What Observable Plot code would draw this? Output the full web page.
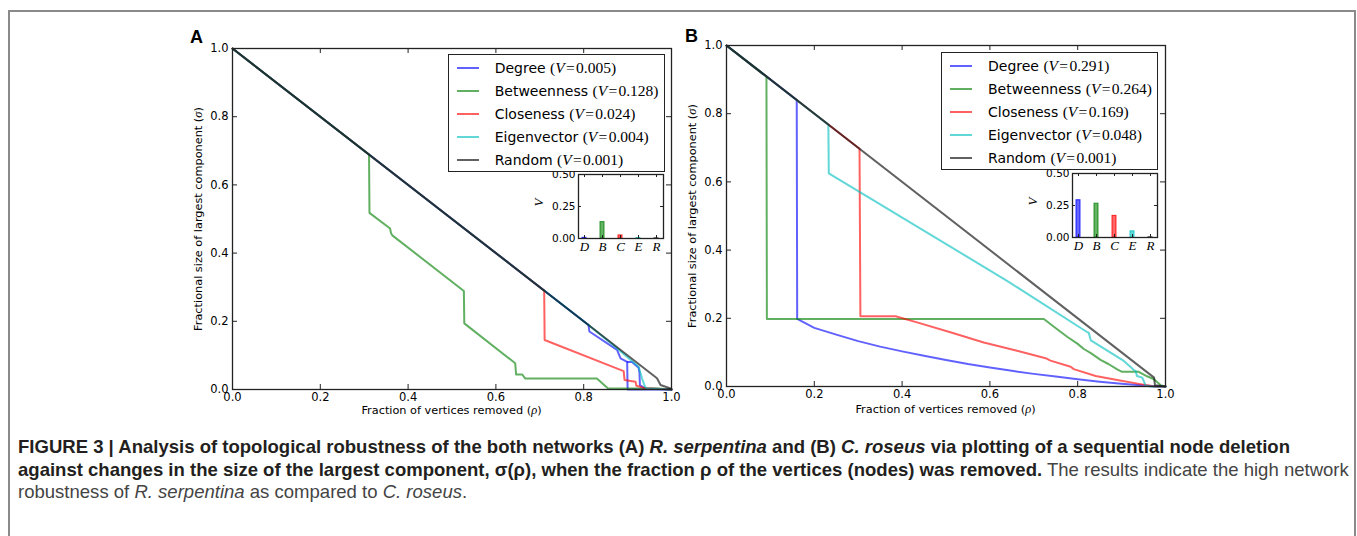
<!DOCTYPE html>
<html><head><meta charset="utf-8">
<script src="https://cdn.jsdelivr.net/npm/d3@7"></script>
<script src="https://cdn.jsdelivr.net/npm/@observablehq/plot@0.6"></script>
<style>
html,body{margin:0;padding:0;background:#fff;}
body{width:1357px;height:536px;position:relative;overflow:hidden;}
#outer{position:absolute;left:8px;top:10px;width:1348px;height:560px;border:2px solid #8a8a8a;border-bottom:none;box-sizing:border-box;}
.legend{position:absolute;background:#fff;border:1.5px solid #222;box-sizing:border-box;z-index:5;}
.lsw{position:absolute;height:0;border-top:2.5px solid;}
.ltxt{position:absolute;font-family:"DejaVu Sans";font-size:14px;color:#000;white-space:nowrap;transform:translateY(-50%);line-height:16px;}
.math{font-family:"Liberation Serif";font-size:15.5px;}
.ylab{position:absolute;font-family:"DejaVu Sans";font-size:11.3px;transform:translate(-50%,-50%) rotate(-90deg);white-space:nowrap;color:#000;}
.xlab{position:absolute;font-family:"DejaVu Sans";font-size:11.3px;transform:translate(-50%,-50%);white-space:nowrap;color:#000;}
.ser{font-family:"Liberation Serif";font-style:italic;font-size:12.5px;}
.plab{position:absolute;font-family:"Liberation Sans";font-weight:bold;font-size:18px;line-height:18px;color:#000;}
.cap{position:absolute;left:18px;font-family:"Liberation Sans";font-size:18.55px;line-height:22.5px;color:#444;white-space:nowrap;}
.cap b{color:#231f20;}
svg{overflow:visible;}
</style></head>
<body>
<div id="outer"></div>
<script>
// ---------- data ----------
const seriesNames = ["Degree", "Betweenness", "Closeness", "Eigenvector", "Random"];
const seriesKeys = ["D", "B", "C", "E", "R"];
const seriesColors = ["#0000ff", "#008000", "#ff0000", "#00bfbf", "#000000"];
const mainTicks = [0, 0.2, 0.4, 0.6, 0.8, 1.0];
const insetTicks = [0, 0.25, 0.5];

// Panel A: R. serpentina  (fraction removed, fractional size)
const vA = [0.005, 0.128, 0.024, 0.004, 0.001];
const degreeA = [[0,1],[0.811,0.189],[0.813,0.17],[0.876,0.116],[0.884,0.091],[0.899,0.081],[0.9,0.0],[1,0]];
const degreeA2 = [[0.9,0.081],[0.91,0.081],[0.925,0.064],[0.927,0.05],[0.928,0.013],[0.94,0.003],[1,0]];
const betweennessA = [[0,1],[0.311,0.689],[0.312,0.518],[0.359,0.472],[0.361,0.459],[0.364,0.452],[0.527,0.289],[0.528,0.194],[0.644,0.077],[0.646,0.044],[0.66,0.044],[0.667,0.032],[0.83,0.032],[0.855,0.004],[0.97,0.003],[1,0]];
const closenessA = [[0,1],[0.71,0.29],[0.711,0.145],[0.891,0.054],[0.893,0.028],[0.918,0.023],[0.92,0.011],[0.94,0.004],[1,0]];
const eigenvectorA = [[0,1],[0.811,0.189],[0.876,0.121],[0.891,0.104],[0.925,0.067],[0.933,0.032],[0.94,0.007],[0.945,0.003],[1,0]];
const randomA = [[0,1],[0.967,0.033],[0.975,0.013],[0.998,0.003],[1,0]];

// Panel B: C. roseus
const vB = [0.291, 0.264, 0.169, 0.048, 0.001];
const degreeB = [[0,1],[0.16,0.84],[0.161,0.198],[0.2,0.172],[0.25,0.152],[0.3,0.133],[0.35,0.117],[0.4,0.103],[0.45,0.09],[0.5,0.078],[0.55,0.066],[0.6,0.056],[0.65,0.046],[0.7,0.037],[0.75,0.029],[0.8,0.021],[0.85,0.014],[0.9,0.008],[0.95,0.003],[0.98,0.0],[1,0]];
const betweennessB = [[0,1],[0.091,0.909],[0.092,0.198],[0.723,0.198],[0.745,0.176],[0.776,0.146],[0.8,0.125],[0.814,0.11],[0.83,0.098],[0.852,0.078],[0.87,0.066],[0.89,0.05],[0.901,0.043],[0.939,0.043],[0.958,0.03],[0.973,0.022],[0.99,0.003],[1,0]];
const closenessB = [[0,1],[0.303,0.697],[0.305,0.206],[0.385,0.206],[0.434,0.188],[0.51,0.159],[0.586,0.129],[0.662,0.105],[0.727,0.083],[0.738,0.076],[0.784,0.058],[0.791,0.051],[0.841,0.031],[0.89,0.019],[0.943,0.007],[0.977,0.0],[1,0]];
const eigenvectorB = [[0,1],[0.232,0.768],[0.233,0.625],[0.639,0.31],[0.822,0.159],[0.825,0.158],[0.83,0.135],[0.905,0.075],[0.92,0.058],[0.928,0.048],[0.932,0.046],[0.935,0.031],[0.947,0.026],[0.951,0.014],[0.955,0.002],[0.966,0.0],[1,0]];
const randomB = [[0,1],[0.974,0.026],[0.976,0.004],[1,0]];

// ---------- drawing ----------
const body = document.body;
function place(el, left, top) {
  el.style.position = "absolute"; el.style.left = left + "px"; el.style.top = top + "px";
  body.appendChild(el); return el;
}

function mainPanel(curves, left, top) {
  const W = 503, H = 411, mL = 52, mR = 12, mT = 30, mB = 40;
  const ph = H - mT - mB, pw = W - mL - mR;
  const inner = mainTicks.slice(1, -1);
  const tk = {stroke: "#222", strokeWidth: 1};
  const marks = curves.map(([pts, color]) =>
    Plot.line(pts, {x: d => d[0], y: d => d[1], stroke: color, strokeWidth: 2, strokeOpacity: 0.62}));
  marks.push(
    Plot.ruleX(inner, {x: d => d, insetTop: ph - 5, ...tk}),
    Plot.ruleX(inner, {x: d => d, insetBottom: ph - 5, ...tk}),
    Plot.ruleY(inner, {y: d => d, insetRight: pw - 5, ...tk}),
    Plot.ruleY(inner, {y: d => d, insetLeft: pw - 5, ...tk}),
    Plot.frame({stroke: "#222", strokeWidth: 1.3}),
    Plot.axisX({ticks: mainTicks, tickFormat: d3.format(".1f"), tickSize: 0, tickPadding: 3, label: null}),
    Plot.axisY({ticks: mainTicks, tickFormat: d3.format(".1f"), tickSize: 0, tickPadding: 4, label: null})
  );
  const svg = Plot.plot({
    width: W, height: H, marginLeft: mL, marginRight: mR, marginTop: mT, marginBottom: mB,
    x: {domain: [0, 1]}, y: {domain: [0, 1]},
    style: {fontFamily: "DejaVu Sans", fontSize: "11.5px", color: "#000", background: "transparent", overflow: "visible"},
    marks
  });
  return place(svg, left, top);
}

function insetPanel(values, left, top) {
  const W = 135, H = 90, mL = 46, mR = 4, mT = 8, mB = 18;
  const ph = H - mT - mB, pw = W - mL - mR;
  const data = seriesKeys.map((k, i) => ({k, v: values[i]}));
  const tk = {stroke: "#222", strokeWidth: 1};
  const svg = Plot.plot({
    width: W, height: H, marginLeft: mL, marginRight: mR, marginTop: mT, marginBottom: mB,
    x: {type: "band", domain: seriesKeys, paddingInner: 0.77, paddingOuter: 0.186},
    y: {domain: [0, 0.5]},
    color: {domain: seriesKeys, range: seriesColors},
    style: {fontFamily: "DejaVu Sans", fontSize: "10.5px", color: "#000", background: "transparent", overflow: "visible"},
    marks: [
      Plot.barY(data, {x: "k", y: "v", fill: "k", fillOpacity: 0.6, stroke: "k", strokeOpacity: 0.8, strokeWidth: 1}),
      Plot.ruleX(seriesKeys, {x: d => d, insetTop: ph - 3, ...tk}),
      Plot.ruleX(seriesKeys, {x: d => d, insetBottom: ph - 3, ...tk}),
      Plot.ruleY([0.25], {y: d => d, insetRight: pw - 3, ...tk}),
      Plot.ruleY([0.25], {y: d => d, insetLeft: pw - 3, ...tk}),
      Plot.frame({stroke: "#222", strokeWidth: 1.3}),
      Plot.axisY({ticks: insetTicks, tickFormat: d3.format(".2f"), tickSize: 0, tickPadding: 3, label: null}),
      Plot.axisX({tickSize: 0, tickPadding: 3, label: null, fontStyle: "italic", fontFamily: "Liberation Serif", fontSize: 13}),
      Plot.text(["V"], {frameAnchor: "left", dx: -40, rotate: -90, text: d => d, fontStyle: "italic", fontFamily: "Liberation Serif", fontSize: 13})
    ]
  });
  return place(svg, left, top);
}

function legend(values, left, top) {
  const box = document.createElement("div");
  box.className = "legend";
  box.style.width = "217px"; box.style.height = "118px";
  seriesNames.forEach((name, i) => {
    const cy = 13 + i * 23;
    const sw = document.createElement("div");
    sw.className = "lsw";
    sw.style.left = "8px"; sw.style.width = "22px"; sw.style.top = (cy - 1.5) + "px";
    sw.style.borderTopColor = seriesColors[i]; sw.style.opacity = 0.62;
    box.appendChild(sw);
    const t = document.createElement("div");
    t.className = "ltxt";
    t.style.left = "46px"; t.style.top = cy + "px";
    t.innerHTML = name + ' <span class="math">(<i>V</i>&#8202;=&#8202;' + values[i].toFixed(3) + ')</span>';
    box.appendChild(t);
  });
  return place(box, left, top);
}

function addText(cls, html, left, top) {
  const d = document.createElement("div");
  d.className = cls; d.innerHTML = html;
  return place(d, left, top);
}

// Panel A
mainPanel([[degreeA, seriesColors[0]], [degreeA2, seriesColors[0]], [betweennessA, seriesColors[1]],
  [closenessA, seriesColors[2]], [eigenvectorA, seriesColors[3]], [randomA, seriesColors[4]]], 180.3, 17.6);
insetPanel(vA, 531.7, 166.3);
legend(vA, 447.7, 54);
addText("ylab", 'Fractional size of largest component (<span class="ser">σ</span>)', 198, 219);
addText("xlab", 'Fraction of vertices removed (<span class="ser">ρ</span>)', 451.5, 410);
addText("plab", "A", 190, 27.7);

// Panel B
mainPanel([[degreeB, seriesColors[0]], [betweennessB, seriesColors[1]], [closenessB, seriesColors[2]],
  [eigenvectorB, seriesColors[3]], [randomB, seriesColors[4]]], 674, 15.2);
insetPanel(vB, 1026, 164.7);
legend(vB, 941, 52);
addText("ylab", 'Fractional size of largest component (<span class="ser">σ</span>)', 692, 216);
addText("xlab", 'Fraction of vertices removed (<span class="ser">ρ</span>)', 945.5, 409);
addText("plab", "B", 685, 27);

// Caption
addText("cap", '<b>FIGURE 3 | Analysis of topological robustness of the both networks (A) <i>R. serpentina</i> and (B) <i>C. roseus</i> via plotting of a sequential node deletion</b>', 18, 435.5);
addText("cap", '<b>against changes in the size of the largest component, σ(ρ), when the fraction ρ of the vertices (nodes) was removed.</b> The results indicate the high network', 18, 458.5);
addText("cap", 'robustness of <i>R. serpentina</i> as compared to <i>C. roseus</i>.', 18, 480.5);
</script>
</body></html>
